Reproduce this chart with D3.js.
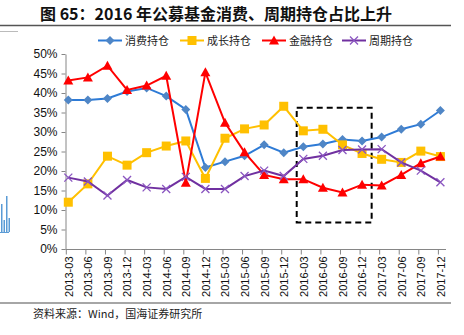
<!DOCTYPE html>
<html><head><meta charset="utf-8">
<script src="https://cdn.jsdelivr.net/npm/d3@7"></script>
<style>body{margin:0;background:#fff}svg{display:block}</style>
</head><body><svg id="c" width="464" height="335"></svg>
<script>
const categories = ["2013-03","2013-06","2013-09","2013-12","2014-03","2014-06","2014-09","2014-12","2015-03","2015-06","2015-09","2015-12","2016-03","2016-06","2016-09","2016-12","2017-03","2017-06","2017-09","2017-12"];
const consumption = [38.2,38.2,38.6,40.4,41.3,39.2,35.8,20.9,22.4,23.9,26.7,24.7,26.2,26.9,28.1,27.7,28.7,30.7,32.0,35.5];
const growth = [12.0,16.7,23.8,21.5,24.7,26.4,27.7,18.1,28.4,30.8,31.8,36.6,30.3,30.7,26.7,24.5,23.0,22.2,25.1,23.7];
const finance = [43.2,44.0,47.0,40.8,41.9,44.4,17.0,45.3,32.4,24.8,19.0,17.9,17.9,15.7,14.5,16.5,16.3,19.0,22.0,23.7];
const cyclical = [18.3,17.3,13.7,17.7,15.8,15.4,18.5,15.4,15.4,18.7,20.1,18.7,23.1,23.9,25.4,25.5,25.6,22.2,20.1,17.1];
const yTicks = [0,5,10,15,20,25,30,35,40,45,50];
const seriesNames = ["消费持仓","成长持仓","金融持仓","周期持仓"];

const series = [
  {name: seriesNames[0], values: consumption, color: "#2E7BD6", mcolor: "#4F86C6", marker: "diamond"},
  {name: seriesNames[1], values: growth, color: "#FFC000", mcolor: "#FFC000", marker: "square"},
  {name: seriesNames[2], values: finance, color: "#FF0000", mcolor: "#FF0000", marker: "triangle"},
  {name: seriesNames[3], values: cyclical, color: "#7030A0", mcolor: "#8A55C0", marker: "cross"}
];

const svg = d3.select("#c");
const font = "'Liberation Sans', Arial, sans-serif";
const cjk = "'Noto Sans CJK SC', sans-serif";

// title
svg.append("text").attr("x", 216).attr("y", 19.5).attr("text-anchor", "middle").attr("font-family", cjk).attr("font-size", 16).attr("font-weight", "bold").attr("fill", "#111")
  .text("图 65：2016 年公募基金消费、周期持仓占比上升");
svg.append("line").attr("x1", 0).attr("x2", 451).attr("y1", 25.5).attr("y2", 25.5).attr("stroke", "#555").attr("stroke-width", 1.3);
svg.append("line").attr("x1", 0).attr("x2", 18).attr("y1", 31.5).attr("y2", 31.5).attr("stroke", "#bbb").attr("stroke-width", 1);

// left-edge artifact (neighbouring figure)
const artBars = [28, 12, 36, 14];
artBars.forEach((h, i) => {
  svg.append("rect").attr("x", i * 2.5 + 1).attr("y", 232 - h).attr("width", 1.5).attr("height", h).attr("fill", "#5B9BD5");
});
svg.append("line").attr("x1", 0).attr("x2", 9).attr("y1", 232.5).attr("y2", 232.5).attr("stroke", "#5B9BD5");

const x = d3.scalePoint().domain(categories).range([68.3, 440.4]);
const y = d3.scaleLinear().domain([0, 50]).range([249, 54]);

// y axis
const yAxis = svg.append("g").attr("transform", "translate(65.5,0)")
  .call(d3.axisLeft(y).tickValues(yTicks).tickFormat(d => d + "%").tickSize(4).tickSizeOuter(0));
yAxis.select(".domain").attr("stroke", "#868686");
yAxis.selectAll(".tick line").attr("stroke", "#868686");
yAxis.selectAll("text").attr("font-family", font).attr("font-size", 12).attr("fill", "#111").attr("x", -8);

// x axis
const xAxis = svg.append("g").attr("transform", "translate(0,249.5)")
  .call(d3.axisBottom(x).tickSize(5).tickSizeOuter(0));
xAxis.select(".domain").attr("stroke", "#868686").attr("d", "M65.5,0H446");
xAxis.selectAll(".tick line").attr("stroke", "#868686").attr("transform", "translate(-2.5,0)");
xAxis.selectAll("text").attr("font-family", font).attr("font-size", 11).attr("fill", "#111")
  .attr("transform", "rotate(-90)").attr("text-anchor", "end").attr("x", -7).attr("y", 0).attr("dy", "0.35em");

// dashed rectangle
svg.append("rect").attr("x", x("2016-03") - 6.6).attr("y", y(36.2)).attr("width", x("2016-12") - x("2016-03") + 16.2)
  .attr("height", y(6.8) - y(36.2)).attr("fill", "none").attr("stroke", "#000").attr("stroke-width", 2).attr("stroke-dasharray", "6,4");

function drawMarker(g, type, cx, cy, color) {
  if (type === "diamond") {
    g.append("path").attr("d", `M${cx},${cy-4.5}L${cx+4.5},${cy}L${cx},${cy+4.5}L${cx-4.5},${cy}Z`).attr("fill", color);
  } else if (type === "square") {
    g.append("rect").attr("x", cx - 4.5).attr("y", cy - 4.5).attr("width", 9).attr("height", 9).attr("fill", color);
  } else if (type === "triangle") {
    g.append("path").attr("d", `M${cx},${cy-5}L${cx+5},${cy+4}L${cx-5},${cy+4}Z`).attr("fill", color);
  } else {
    g.append("path").attr("d", `M${cx-4},${cy-4}L${cx+4},${cy+4}M${cx-4},${cy+4}L${cx+4},${cy-4}`).attr("stroke", color).attr("stroke-width", 1.3);
  }
}

const line = d3.line().x((d, i) => x(categories[i])).y(d => y(d));
series.forEach(s => {
  const g = svg.append("g");
  g.append("path").datum(s.values).attr("d", line).attr("fill", "none").attr("stroke", s.color).attr("stroke-width", 2);
  s.values.forEach((v, i) => drawMarker(g, s.marker, x(categories[i]), y(v), s.mcolor));
});

// legend
const legX = [98, 180, 262, 342];
series.forEach((s, i) => {
  const g = svg.append("g");
  g.append("line").attr("x1", legX[i]).attr("x2", legX[i] + 24).attr("y1", 40.5).attr("y2", 40.5).attr("stroke", s.color).attr("stroke-width", 2);
  drawMarker(g, s.marker, legX[i] + 12, 40.5, s.mcolor);
  g.append("text").attr("x", legX[i] + 27).attr("y", 44.5).attr("font-family", cjk).attr("font-size", 11).attr("fill", "#222").text(s.name);
});

// source
svg.append("line").attr("x1", 0).attr("x2", 451).attr("y1", 303).attr("y2", 303).attr("stroke", "#888").attr("stroke-width", 1.3);
svg.append("text").attr("x", 33).attr("y", 318).attr("font-family", cjk).attr("font-size", 11).attr("fill", "#222")
  .text("资料来源：Wind，国海证券研究所");
</script></body></html>
